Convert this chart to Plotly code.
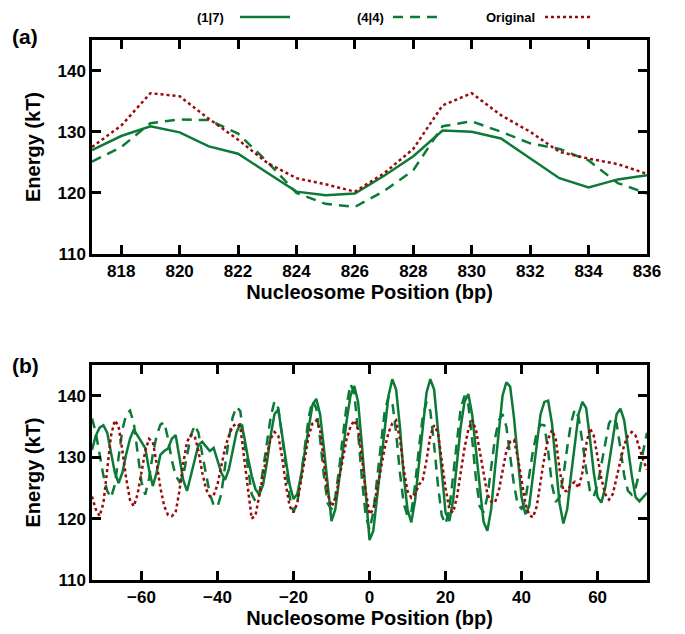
import plotly.graph_objects as go

# ---------------- Panel (a) data ----------------
pos_a = [817, 818, 819, 820, 821, 822, 823, 824, 825, 826,
         827, 828, 829, 830, 831, 832, 833, 834, 835, 836]
a_17 = [127.0, 129.3, 130.9, 129.9, 127.6, 126.4, 123.3, 120.2, 119.6, 119.9,
        122.8, 126.0, 130.2, 130.0, 128.9, 125.6, 122.4, 120.9, 122.2, 122.9]
a_44 = [125.1, 127.5, 131.4, 132.0, 131.9, 129.7, 125.1, 120.0, 118.2, 117.7,
        120.3, 123.7, 130.9, 131.7, 130.0, 128.1, 127.2, 125.3, 121.6, 119.9]
a_orig = [127.5, 131.0, 136.3, 135.8, 132.1, 128.7, 124.9, 122.4, 121.4, 120.2,
          123.2, 127.2, 134.3, 136.3, 132.7, 130.0, 126.7, 125.6, 124.7, 123.1]

# ---------------- Panel (b) data ----------------
pos_b = list(range(-73, 74))
b_17 = [131.2, 133.5, 134.8, 135.2, 134.0, 131.0, 127.5, 125.8, 127.5, 130.5,
        133.0, 134.5, 133.5, 132.5, 131.5, 128.0, 125.3, 127.5, 130.4, 131.0,
        131.4, 133.0, 133.6, 130.0, 126.3, 124.5, 127.0, 130.0, 132.0, 132.5,
        131.8, 131.0, 131.5, 129.5, 127.5, 126.3, 128.0, 131.0, 134.0, 135.5,
        133.5, 130.0, 127.0, 124.8, 123.9, 125.5, 129.0, 133.5, 137.0, 137.8,
        134.0, 129.5, 125.5, 123.2, 124.0, 127.0, 131.0, 135.0, 138.5, 139.5,
        137.0, 131.5, 125.0, 119.6, 121.5, 126.0, 131.0, 136.0, 140.0, 141.6,
        139.0, 132.0, 124.0, 116.5, 118.0, 123.5, 129.0, 135.0, 140.0, 142.7,
        141.0, 135.0, 127.0, 121.5, 119.4, 123.0, 129.0, 135.0, 140.5, 142.7,
        141.0, 134.5, 127.0, 121.0, 119.6, 123.0, 129.0, 135.0, 139.0, 140.3,
        137.0, 131.0, 124.5, 119.5, 118.0, 121.5, 128.0, 134.5, 140.0, 142.2,
        141.5, 136.5, 130.0, 123.5, 120.7, 122.0, 127.0, 132.5, 137.0, 139.0,
        139.2, 135.5, 129.0, 122.5, 119.2, 121.5, 127.0, 132.5, 137.0, 139.0,
        138.0, 133.0, 127.5, 123.5, 122.6, 125.0, 129.0, 133.5, 137.0, 137.9,
        136.0, 131.5, 127.0, 123.5, 122.8, 123.5, 124.2]
b_44 = [136.3, 134.0, 130.5, 127.0, 124.5, 123.4, 125.5, 130.0, 134.5, 137.0,
        137.6, 135.5, 131.0, 126.0, 123.9, 126.5, 130.5, 133.5, 135.3, 135.7,
        133.0, 129.5, 127.0, 126.0, 127.0, 130.0, 133.5, 135.2, 134.0, 130.5,
        127.0, 124.0, 122.2, 121.9, 124.0, 128.5, 133.0, 136.5, 138.2, 137.5,
        133.0, 128.0, 124.0, 122.8, 124.0, 128.0, 132.5, 136.5, 139.1, 138.0,
        133.5, 128.0, 123.5, 121.1, 122.5, 127.0, 132.0, 136.5, 139.2, 138.0,
        133.0, 127.0, 122.5, 121.5, 123.5, 128.0, 133.5, 138.5, 141.9, 140.5,
        134.0, 126.5, 120.5, 118.2, 121.0, 126.5, 132.5, 137.5, 139.8, 139.0,
        134.0, 127.5, 122.5, 120.4, 121.0, 125.5, 131.5, 136.5, 139.0, 137.5,
        132.0, 125.5, 120.5, 119.1, 121.5, 127.0, 133.0, 138.0, 140.0, 138.5,
        133.0, 126.5, 122.0, 121.0, 123.5, 128.5, 133.0, 136.0, 137.0, 135.0,
        130.5, 125.5, 122.3, 121.6, 123.0, 127.0, 131.0, 134.0, 135.3, 135.2,
        131.0, 125.5, 122.7, 123.5, 127.0, 131.5, 135.5, 137.8, 136.5, 132.5,
        128.0, 124.5, 123.6, 125.5, 129.0, 132.5, 135.5, 136.5, 135.5, 131.5,
        127.0, 124.5, 123.9, 125.0, 127.5, 131.0, 134.0]
b_orig = [123.6, 121.5, 120.4, 122.5, 128.0, 133.5, 136.0, 135.0, 131.0, 126.5,
          123.0, 122.0, 124.0, 127.5, 131.0, 133.0, 132.5, 129.0, 125.0, 122.0,
          120.6, 120.4, 121.0, 124.5, 129.0, 132.5, 133.6, 133.5, 131.0, 127.5,
          124.8, 123.6, 123.8, 125.5, 128.5, 131.5, 133.5, 135.0, 135.5, 135.0,
          130.0, 124.5, 120.0, 120.5, 123.5, 127.0, 130.5, 133.0, 134.1, 133.5,
          130.0, 125.5, 122.0, 121.0, 122.5, 126.0, 130.0, 133.5, 135.5, 136.0,
          134.5, 129.0, 124.0, 122.0, 123.0, 126.5, 130.0, 133.0, 135.0, 136.0,
          134.5, 130.0, 124.5, 120.7, 121.5, 125.0, 128.5, 131.5, 134.0, 135.5,
          136.0, 133.0, 128.0, 124.5, 123.4, 124.0, 125.5, 126.3, 129.5, 133.5,
          135.2, 134.0, 129.5, 125.0, 121.5, 121.0, 123.5, 127.5, 131.5, 134.5,
          136.0, 134.5, 131.0, 127.0, 124.0, 122.8, 122.6, 124.5, 128.0, 131.0,
          132.5, 132.8, 130.0, 126.0, 122.5, 120.6, 120.2, 122.0, 126.0, 130.0,
          133.0, 134.4, 133.0, 128.0, 124.5, 124.5, 125.5, 126.0, 125.0, 127.5,
          132.0, 134.7, 133.5, 130.0, 126.5, 124.0, 123.1, 124.0, 126.5, 129.5,
          132.0, 133.5, 134.1, 133.5, 131.5, 129.5, 128.0]

ticks_a = [818, 820, 822, 824, 826, 828, 830, 832, 834, 836]
ticks_b = [-60, -40, -20, 0, 20, 40, 60]
ticks_y = [110, 120, 130, 140]
names = ["(1|7)", "(4|4)", "Original"]

GREEN = "#0b7a36"
RED = "#9b0a0a"
FONT = "Liberation Sans"

styles = [dict(color=GREEN, width=2.5, dash="solid"),
          dict(color=GREEN, width=2.5, dash="10px,7px"),
          dict(color=RED, width=2.5, dash="3px,3px")]

fig = go.Figure()
for ys, st, nm in zip([a_17, a_44, a_orig], styles, names):
    fig.add_trace(go.Scatter(x=pos_a, y=ys, mode="lines", line=st, name=nm,
                             showlegend=False, xaxis="x", yaxis="y"))
for ys, st, nm in zip([b_17, b_44, b_orig], styles, names):
    fig.add_trace(go.Scatter(x=pos_b, y=ys, mode="lines", line=st, name=nm,
                             showlegend=False, xaxis="x2", yaxis="y2"))

axis_common = dict(showgrid=False, zeroline=False, showline=True, linecolor="black",
                   linewidth=2.5, mirror="ticks", ticks="inside", ticklen=9,
                   tickwidth=2.5, tickcolor="black",
                   tickfont=dict(family=FONT, size=17, color="black", weight="bold"))
title_font = dict(family=FONT, size=20, color="black", weight="bold")

fig.update_layout(
    width=677, height=626,
    paper_bgcolor="white", plot_bgcolor="white",
    margin=dict(l=84, r=38, t=32, b=54),
    xaxis=dict(domain=[0, 1], anchor="y", range=[817, 836], tickvals=ticks_a,
               title=dict(text="Nucleosome Position (bp)", font=title_font, standoff=4),
               **axis_common),
    yaxis=dict(domain=[0.6037, 1], anchor="x", range=[110, 145], tickvals=ticks_y,
               title=dict(text="Energy (kT)", font=title_font, standoff=12),
               **axis_common),
    xaxis2=dict(domain=[0, 1], anchor="y2", range=[-73, 73], tickvals=ticks_b,
                title=dict(text="Nucleosome Position (bp)", font=title_font, standoff=2),
                **axis_common),
    yaxis2=dict(domain=[0, 0.398], anchor="x2", range=[110, 145], tickvals=ticks_y,
                title=dict(text="Energy (kT)", font=title_font, standoff=12),
                **axis_common),
    showlegend=False,
)

# Panel labels
for txt, yy in [("(a)", 1.0056), ("(b)", 0.398)]:
    fig.add_annotation(text=txt, xref="paper", yref="paper", x=-0.148, y=yy,
                       xanchor="left", yanchor="middle", showarrow=False,
                       font=dict(family=FONT, size=21, color="black", weight="bold"))

# Legend (gnuplot style: text then line sample)
leg_text_x = [0.2414, 0.5297, 0.8018]
leg_line_x = [(0.2667, 0.3568), (0.5423, 0.6270), (0.8162, 0.9009)]
leg_y = 1.0425
for nm, tx, (lx0, lx1), st in zip(names, leg_text_x, leg_line_x, styles):
    fig.add_annotation(text=nm, xref="paper", yref="paper", x=tx, y=leg_y,
                       xanchor="right", yanchor="middle", showarrow=False,
                       font=dict(family=FONT, size=13, color="black", weight="bold"))
    fig.add_shape(type="line", xref="paper", yref="paper", x0=lx0, x1=lx1,
                  y0=leg_y, y1=leg_y, line=st)

fig.write_html("out.html")
